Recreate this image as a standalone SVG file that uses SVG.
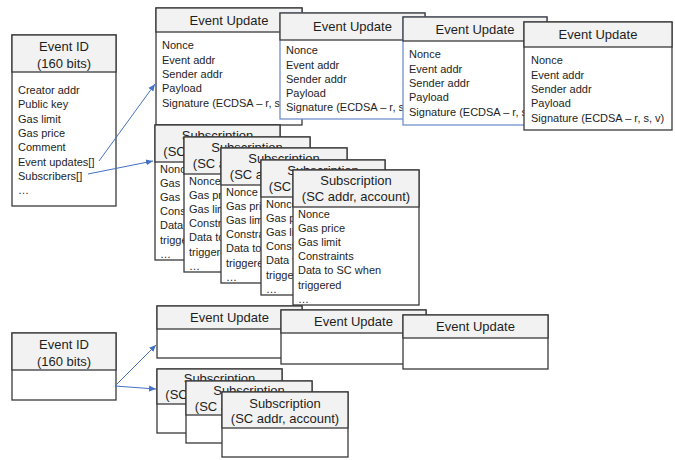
<svg xmlns="http://www.w3.org/2000/svg" width="675" height="460" viewBox="0 0 675 460">
<defs>
<style>
.hd{fill:#f2f2f2;stroke:#3a3a3a;stroke-width:1.3}
.bd{fill:#ffffff;stroke:#3a3a3a;stroke-width:1.3}
.bb{fill:#ffffff;stroke:#7090cc;stroke-width:1.3}
.t{font-family:"Liberation Sans",Arial,sans-serif;font-size:13px;fill:#1e1e1e;text-anchor:middle}
.b{font-family:"Liberation Sans",Arial,sans-serif;font-size:11px;fill:#1e1e1e}
.ar{fill:none;stroke:#4472c4;stroke-width:1}
</style>
<marker id="ah" markerWidth="8" markerHeight="8" refX="7" refY="4" orient="auto" markerUnits="userSpaceOnUse">
<path d="M0,1 L7,4 L0,7 Z" fill="#4472c4"/>
</marker>
</defs>
<rect width="675" height="460" fill="#ffffff"/>

<g id="event-id-1">
<rect class="bd" x="12" y="35" width="104" height="171"/>
<rect class="hd" x="12" y="35" width="104" height="37"/>
<text class="t" x="64" y="50.5">Event ID</text>
<text class="t" x="64" y="67.5">(160 bits)</text>
<text class="b" x="18" y="94">Creator addr</text>
<text class="b" x="18" y="108.3">Public key</text>
<text class="b" x="18" y="122.6">Gas limit</text>
<text class="b" x="18" y="136.9">Gas price</text>
<text class="b" x="18" y="151.2">Comment</text>
<text class="b" x="18" y="165.5">Event updates[]</text>
<text class="b" x="18" y="179.8">Subscribers[]</text>
<text class="b" x="18" y="194.1">…</text>
</g>

<g id="event-update-1">
<rect class="bd" x="156" y="8" width="146" height="117"/>
<rect class="hd" x="156" y="8" width="146" height="24"/>
<text class="t" x="229" y="24.5">Event Update</text>
<text class="b" x="162" y="49">Nonce</text>
<text class="b" x="162" y="63.5">Event addr</text>
<text class="b" x="162" y="78">Sender addr</text>
<text class="b" x="162" y="92">Payload</text>
<text class="b" x="162" y="106.5">Signature (ECDSA – r, s, v)</text>
</g>

<g id="event-update-2">
<rect class="bb" x="280" y="13" width="145" height="106"/>
<rect class="hd" x="280" y="13" width="145" height="27"/>
<text class="t" x="352.5" y="30.5">Event Update</text>
<text class="b" x="286" y="54">Nonce</text>
<text class="b" x="286" y="68.5">Event addr</text>
<text class="b" x="286" y="83">Sender addr</text>
<text class="b" x="286" y="97">Payload</text>
<text class="b" x="286" y="111">Signature (ECDSA – r, s, v)</text>
</g>

<g id="event-update-3">
<rect class="bb" x="403" y="17" width="144" height="108"/>
<rect class="hd" x="403" y="17" width="144" height="24"/>
<text class="t" x="475" y="33.5">Event Update</text>
<text class="b" x="409" y="58">Nonce</text>
<text class="b" x="409" y="72.5">Event addr</text>
<text class="b" x="409" y="87">Sender addr</text>
<text class="b" x="409" y="101">Payload</text>
<text class="b" x="409" y="115.5">Signature (ECDSA – r, s, v)</text>
</g>

<g id="event-update-4">
<rect class="bd" x="524" y="22" width="148" height="108"/>
<rect class="hd" x="524" y="22" width="148" height="25"/>
<text class="t" x="598" y="38.5">Event Update</text>
<text class="b" x="531" y="64">Nonce</text>
<text class="b" x="531" y="78.5">Event addr</text>
<text class="b" x="531" y="93">Sender addr</text>
<text class="b" x="531" y="107">Payload</text>
<text class="b" x="531" y="121.5">Signature (ECDSA – r, s, v)</text>
</g>

<g id="subscription-1" transform="translate(155,125)">
<rect class="bd" x="0" y="0" width="125" height="135"/>
<rect class="hd" x="0" y="0" width="125" height="37"/>
<text class="t" x="62.5" y="15">Subscription</text>
<text class="t" x="62.5" y="30.6">(SC addr, account)</text>
<text class="b" x="5" y="48">Nonce</text>
<text class="b" x="5" y="62.1">Gas price</text>
<text class="b" x="5" y="76.2">Gas limit</text>
<text class="b" x="5" y="90.3">Constraints</text>
<text class="b" x="5" y="104.4">Data to SC when</text>
<text class="b" x="5" y="118.5">triggered</text>
<text class="b" x="5" y="132.6">…</text>
</g>

<g id="subscription-2" transform="translate(184,137)">
<rect class="bd" x="0" y="0" width="126" height="135"/>
<rect class="hd" x="0" y="0" width="126" height="37"/>
<text class="t" x="63" y="15">Subscription</text>
<text class="t" x="63" y="30.6">(SC addr, account)</text>
<text class="b" x="5" y="48">Nonce</text>
<text class="b" x="5" y="62.1">Gas price</text>
<text class="b" x="5" y="76.2">Gas limit</text>
<text class="b" x="5" y="90.3">Constraints</text>
<text class="b" x="5" y="104.4">Data to SC when</text>
<text class="b" x="5" y="118.5">triggered</text>
<text class="b" x="5" y="132.6">…</text>
</g>

<g id="subscription-3" transform="translate(221,148)">
<rect class="bd" x="0" y="0" width="126" height="135"/>
<rect class="hd" x="0" y="0" width="126" height="37"/>
<text class="t" x="63" y="15">Subscription</text>
<text class="t" x="63" y="30.6">(SC addr, account)</text>
<text class="b" x="5" y="48">Nonce</text>
<text class="b" x="5" y="62.1">Gas price</text>
<text class="b" x="5" y="76.2">Gas limit</text>
<text class="b" x="5" y="90.3">Constraints</text>
<text class="b" x="5" y="104.4">Data to SC when</text>
<text class="b" x="5" y="118.5">triggered</text>
<text class="b" x="5" y="132.6">…</text>
</g>

<g id="subscription-4" transform="translate(261,160)">
<rect class="bd" x="0" y="0" width="124" height="135"/>
<rect class="hd" x="0" y="0" width="124" height="37"/>
<text class="t" x="62" y="15">Subscription</text>
<text class="t" x="62" y="30.6">(SC addr, account)</text>
<text class="b" x="5" y="48">Nonce</text>
<text class="b" x="5" y="62.1">Gas price</text>
<text class="b" x="5" y="76.2">Gas limit</text>
<text class="b" x="5" y="90.3">Constraints</text>
<text class="b" x="5" y="104.4">Data to SC when</text>
<text class="b" x="5" y="118.5">triggered</text>
<text class="b" x="5" y="132.6">…</text>
</g>

<g id="subscription-5" transform="translate(293,170)">
<rect class="bd" x="0" y="0" width="126" height="135"/>
<rect class="hd" x="0" y="0" width="126" height="37"/>
<text class="t" x="63" y="15">Subscription</text>
<text class="t" x="63" y="30.6">(SC addr, account)</text>
<text class="b" x="5" y="48">Nonce</text>
<text class="b" x="5" y="62.1">Gas price</text>
<text class="b" x="5" y="76.2">Gas limit</text>
<text class="b" x="5" y="90.3">Constraints</text>
<text class="b" x="5" y="104.4">Data to SC when</text>
<text class="b" x="5" y="118.5">triggered</text>
<text class="b" x="5" y="132.6">…</text>
</g>

<g id="event-id-2">
<rect class="bd" x="12" y="333" width="104" height="67"/>
<rect class="hd" x="12" y="333" width="104" height="37"/>
<text class="t" x="64" y="348.5">Event ID</text>
<text class="t" x="64" y="365.5">(160 bits)</text>
</g>

<g id="event-update-b1">
<rect class="bd" x="157" y="306" width="145" height="52"/>
<rect class="hd" x="157" y="306" width="145" height="23"/>
<text class="t" x="229.5" y="322">Event Update</text>
</g>
<g id="event-update-b2">
<rect class="bd" x="281" y="310" width="145" height="54"/>
<rect class="hd" x="281" y="310" width="145" height="23"/>
<text class="t" x="353.5" y="326">Event Update</text>
</g>
<g id="event-update-b3">
<rect class="bd" x="403" y="315" width="145" height="54"/>
<rect class="hd" x="403" y="315" width="145" height="23"/>
<text class="t" x="475.5" y="331">Event Update</text>
</g>

<g id="subscription-b1" transform="translate(157,369)">
<rect class="bd" x="0" y="0" width="125" height="64"/>
<rect class="hd" x="0" y="0" width="125" height="35"/>
<text class="t" x="62.5" y="14">Subscription</text>
<text class="t" x="62.5" y="29.6">(SC addr, account)</text>
</g>
<g id="subscription-b2" transform="translate(186,381)">
<rect class="bd" x="0" y="0" width="126" height="62"/>
<rect class="hd" x="0" y="0" width="126" height="34"/>
<text class="t" x="63" y="13.5">Subscription</text>
<text class="t" x="63" y="29.6">(SC addr, account)</text>
</g>
<g id="subscription-b3" transform="translate(222,392)">
<rect class="bd" x="0" y="0" width="126" height="65"/>
<rect class="hd" x="0" y="0" width="126" height="36"/>
<text class="t" x="63" y="15.6">Subscription</text>
<text class="t" x="63" y="30.6">(SC addr, account)</text>
</g>

<g id="connectors">
<path class="ar" d="M99,161 L155,84" marker-end="url(#ah)"/>
<path class="ar" d="M88,174 L153,161" marker-end="url(#ah)"/>
<path class="ar" d="M115,386 L156,345" marker-end="url(#ah)"/>
<path class="ar" d="M115,386 L156,389" marker-end="url(#ah)"/>
</g>
</svg>
